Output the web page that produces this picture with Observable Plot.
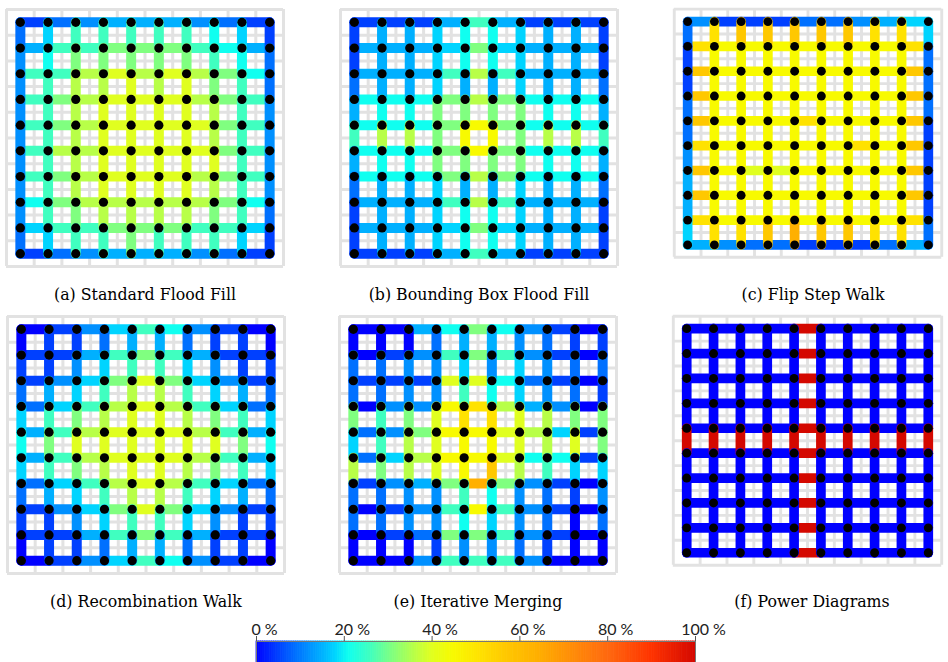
<!DOCTYPE html>
<html><head><meta charset="utf-8">
<script src="https://cdn.jsdelivr.net/npm/d3@7"></script>
<script src="https://cdn.jsdelivr.net/npm/@observablehq/plot@0.6"></script>
<style>
html,body{margin:0;padding:0;background:#fff;}
#root{position:relative;width:948px;height:662px;overflow:hidden;}
.panel{position:absolute;}
.cap{position:absolute;width:290px;text-align:center;font-family:"DejaVu Serif",serif;font-size:15.8px;line-height:18px;color:#000;white-space:nowrap;}
</style></head><body><div id="root"></div>
<script>
// ---- data ----
const titles = ["(a) Standard Flood Fill","(b) Bounding Box Flood Fill","(c) Flip Step Walk",
                "(d) Recombination Walk","(e) Iterative Merging","(f) Power Diagrams"];
// level codes -> percent values
const levelCodes  = "0123456789abcder";
const levelValues = [0,5,9,12,15,18,21,26,31,36,40,45,51,57,64,100];
const nodeIdx = [0,1,2,3,4,5,6,7,8,9];
const grayLines = [-0.5,0.5,1.5,2.5,3.5,4.5,5.5,6.5,7.5,8.5,9.5];
const colorbarTicks = [0,20,40,60,80,100];
const colorStops  = [0,5,9,12,15,18,21,26,31,36,40,45,51,57,64,80,90,100];
const colorRange  = ["#0000ff","#0040ff","#0070ff","#0090ff","#00b0ff","#00d4ff","#10fff0","#40ffc0","#80ff80","#b8ff48","#e0ff20","#f8fa00","#ffe200","#ffc800","#ffb000","#ff6a10","#ff3400","#d40800"];

// H: 10 rows x 9 horizontal edges; V: 9 rows x 10 vertical edges
const aH = ["123444321","477888764","779a9a986","789aaa987","789aaaa87","799aaaa87","789aaa987","689999986","577888775","123444321"];
const aV = ["2577777651","3688888762","3799a9a872","379aaaa973","379aaaa973","379aaaaa73","379aaaa973","3789999872","2577877751"];
const bH = ["111474111","444585444","444797444","666898666","6668b8666","6668b8666","666898666","444797444","444585444","111474111"];
const bV = ["1445665441","1445665441","2445445442","4668888664","7998bb8997","4668888664","2445445442","1445665441","1445665441"];
const cH = ["311122345","cbbbbbbbc","dbbbbbbbd","dbbbbbbbd","dbbbcbbbd","cbbbbbcbd","dbaabbbbd","dbbbbbbbd","cbbbbbbbc","432211124"];
const cV = ["2cdddddcc5","1bbbbbbbb2","1bbbbbbbb2","2bbbbbbbb2","2bbbbbbbb1","3bbbbbbbb1","4bbbbbbbb1","4bbbbbbbb1","5ccdeddcc2"];
const dH = ["013576310","114787411","1358a8531","2579a9752","479aaa974","479aaa974","2579a9752","1358a8531","114787411","013576310"];
const dV = ["0112442110","1135775311","2457997542","5789aa9875","68aaaaaa86","5789aa9875","2457997542","1135775311","0112442110"];
const eH = ["004686310","013787310","111aa6210","033bc9430","238bba951","259bba661","1348e8310","0137b7310","012887310","003777300"];
const eV = ["0002443211","2233535322","2233765321","878acca988","579abba9a8","989abd9755","2233763213","2233653202","0001332100"];
const fH = ["0000r0000","0000r0000","0000r0000","0000r0000","0000r0000","0000r0000","0000r0000","0000r0000","0000r0000","0000r0000"];
const fV = ["0000000000","0000000000","0000000000","0000000000","rrrrrrrrrr","0000000000","0000000000","0000000000","0000000000"];

const panels = [[aH,aV],[bH,bV],[cH,cV],[dH,dV],[eH,eV],[fH,fV]];
const panelLeft = [0,334,668,1,333,667];
const panelTop  = [0,0,0,307,307,307];

// ---- build ----
const val = ch => levelValues[levelCodes.indexOf(ch)];
const colorOpts = {type:"linear", domain: colorStops, range: colorRange, interpolate:"rgb"};
const nodes = nodeIdx.flatMap(r => nodeIdx.map(c => ({x:c, y:r})));
const root = document.getElementById("root");

panels.forEach(([H,V], i) => {
  const edges = [];
  H.forEach((row, r) => [...row].forEach((ch, c) => edges.push({x1:c, y1:r, x2:c+1, y2:r, v: val(ch)})));
  V.forEach((row, r) => [...row].forEach((ch, c) => edges.push({x1:c, y1:r, x2:c, y2:r+1, v: val(ch)})));
  const svg = Plot.plot({
    width: 290, height: 272, marginLeft: 6, marginRight: 7, marginTop: 9, marginBottom: 6,
    x: {domain:[-0.5,9.5], axis:null},
    y: {domain:[-0.5,9.5], reverse:true, axis:null},
    color: colorOpts,
    marks: [
      Plot.ruleX(grayLines, {stroke:"#e2e2e2", strokeWidth:3}),
      Plot.ruleY(grayLines, {stroke:"#e2e2e2", strokeWidth:3}),
      Plot.link(edges, {x1:"x1", y1:"y1", x2:"x2", y2:"y2", stroke:"v", strokeWidth:10, strokeLinecap:"round"}),
      Plot.dot(nodes, {x:"x", y:"y", r:4.6, fill:"#000", stroke:null})
    ]
  });
  const wrap = document.createElement("div");
  wrap.className = "panel";
  wrap.style.left = panelLeft[i] + "px";
  wrap.style.top = panelTop[i] + "px";
  wrap.appendChild(svg);
  root.appendChild(wrap);
  const cap = document.createElement("div");
  cap.className = "cap";
  cap.textContent = titles[i];
  cap.style.left = panelLeft[i] + "px";
  cap.style.top = (panelTop[i] + 286) + "px";
  root.appendChild(cap);
});

// colorbar
const barSteps = d3.range(0, 100, 0.5);
const bar = Plot.plot({
  width: 948, height: 52, marginLeft: 256, marginRight: 253, marginTop: 31, marginBottom: 0,
  x: {domain:[0,100], axis:null},
  y: {axis:null},
  color: colorOpts,
  style: {fontFamily:"Lato, sans-serif", fontSize:"16px", color:"#222", background:"transparent", overflow:"visible"},
  marks: [
    Plot.rect(barSteps, {x1: d => d, x2: d => d + 0.5, fill: d => d + 0.25, stroke: d => d + 0.25, strokeWidth: 0.8}),
    Plot.frame({stroke:"#777", strokeWidth:1}),
    Plot.tickX(colorbarTicks, {x: d => d, stroke:"#555", strokeWidth:1, insetTop:-5, insetBottom: 21}),
    Plot.text(colorbarTicks, {x: d => d, frameAnchor:"top", lineAnchor:"bottom", dy:-7, dx: 8, text: d => d + " %", fontSize:16, fill:"#222"})
  ]
});
const bw = document.createElement("div");
bw.className = "panel";
bw.style.left = "0px";
bw.style.top = "610px";
bw.appendChild(bar);
root.appendChild(bw);
</script>
</body></html>
